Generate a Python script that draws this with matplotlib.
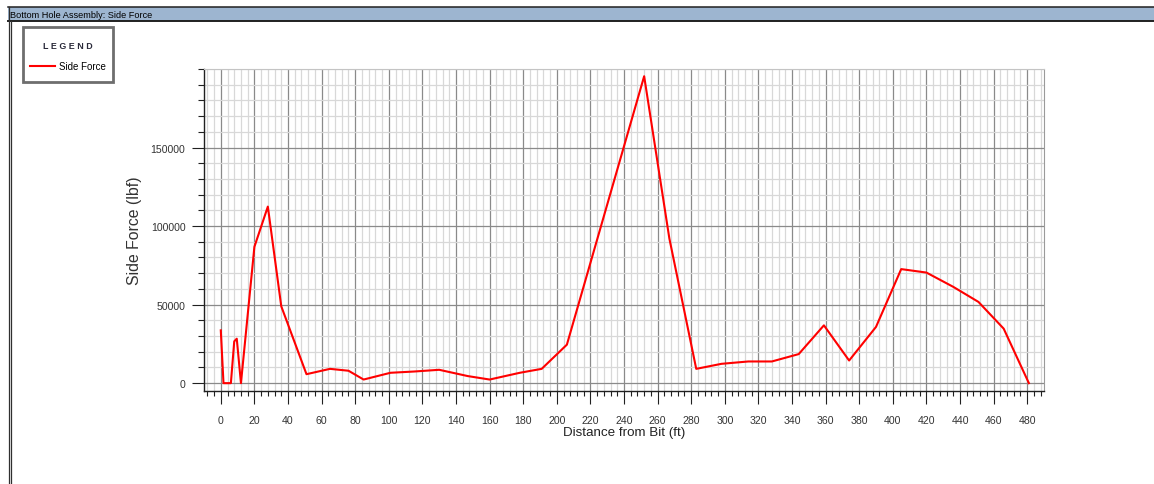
import matplotlib
matplotlib.use('Agg')
import matplotlib.pyplot as plt
from matplotlib.ticker import MultipleLocator, FixedLocator
from matplotlib.patches import Rectangle
from matplotlib.lines import Line2D

# side force along the BHA
dist = [0, 1.6, 6, 8, 9.5, 12, 20, 28, 36, 51, 65, 76, 85, 101, 115, 130, 147,
        160, 178, 191, 206, 252, 267, 283, 298, 314, 328, 344, 359, 374, 390,
        405, 420, 436, 451, 466, 481]
force = [33600, 0, 0, 26600, 28300, 0, 86800, 112400, 48900, 5700, 9100, 7900,
         2300, 6600, 7400, 8500, 4500, 2300, 6600, 9100, 24500, 195400, 92100,
         9100, 12300, 13800, 13800, 18500, 36800, 14400, 35800, 72600, 70400,
         61300, 51700, 34700, 0]
yticks = [0, 50000, 100000, 150000]

plt.rcParams['font.family'] = ['Liberation Sans', 'DejaVu Sans']

W, H = 1154, 485
fig = plt.figure(figsize=(W / 100, H / 100), dpi=100)

def fx(px):
    return px / W

def fy(py):
    return 1 - py / H

# window chrome: title bar and borders
fig.patches.append(Rectangle((fx(8), fy(22)), 1 - fx(8), fy(8) - fy(22),
                             transform=fig.transFigure, facecolor='#9db5d0',
                             edgecolor='none'))
fig.lines.append(Line2D([fx(8), 1], [fy(7.5), fy(7.5)], transform=fig.transFigure,
                        color='#202020', lw=1.1))
fig.lines.append(Line2D([fx(8), 1], [fy(22), fy(22)], transform=fig.transFigure,
                        color='#202020', lw=1.4))
fig.lines.append(Line2D([fx(8.5), fx(8.5)], [0, fy(7.5)], transform=fig.transFigure,
                        color='#303030', lw=0.9))
fig.lines.append(Line2D([fx(11), fx(11)], [0, fy(22)], transform=fig.transFigure,
                        color='#303030', lw=0.9))
fig.text(fx(10), fy(15), 'Bottom Hole Assembly: Side Force', fontsize=6.6,
         family=['Liberation Sans Narrow', 'Liberation Sans'], color='black',
         ha='left', va='center')

ax = fig.add_axes([fx(204), fy(392), fx(1044) - fx(204), fy(70) - fy(392)])
ax.plot(dist, force, color='#ff0000', lw=1.5, label='Side Force', zorder=5)

ax.set_xlim(-10, 490)
ax.set_ylim(-5000, 200000)

ax.xaxis.set_major_locator(MultipleLocator(20))
ax.xaxis.set_minor_locator(MultipleLocator(4))
ax.yaxis.set_major_locator(FixedLocator(yticks))
ax.yaxis.set_minor_locator(MultipleLocator(10000))

ax.grid(which='minor', color='#d8d8d8', lw=0.9)
ax.grid(which='major', color='#8a8a8a', lw=0.9)
ax.set_axisbelow(True)

ax.tick_params(axis='x', which='major', direction='out', length=9.4, width=0.8,
               color='#202020', pad=8, labelsize=7.6, labelcolor='#333333')
ax.tick_params(axis='x', which='minor', direction='out', length=3.6, width=0.8,
               color='#202020')
ax.tick_params(axis='y', which='major', direction='out', length=8.6, width=0.8,
               color='#202020', pad=4.8, labelsize=7.6, labelcolor='#333333')
ax.tick_params(axis='y', which='minor', direction='out', length=4.3, width=0.8,
               color='#202020')

for s in ['left', 'bottom']:
    ax.spines[s].set_color('#202020')
    ax.spines[s].set_linewidth(1.0)
ax.spines['top'].set_color('#c4c4c4')
ax.spines['right'].set_color('#9a9a9a')

ax.set_xlabel('Distance from Bit (ft)', fontsize=9.6, color='#222222')
ax.set_ylabel('Side Force (lbf)', fontsize=11.4, color='#333333')
ax.xaxis.set_label_coords(0.5, -0.108)
ax.yaxis.set_label_coords((142 - 204) / (1044 - 204), 0.5)

# legend box drawn as its own frame, entries placed inside
fig.patches.append(Rectangle((fx(23), fy(83)), fx(113) - fx(23), fy(28) - fy(83),
                             transform=fig.transFigure, facecolor='white',
                             edgecolor='#6e6e6e', lw=2.0))
leg = fig.legend(loc='center', bbox_to_anchor=(fx(68), fy(57)),
                 title='L E G E N D', fontsize=7, frameon=False,
                 handlelength=2.5, handletextpad=0.4, borderpad=0,
                 borderaxespad=0)
leg.get_title().set_fontsize(6.4)
leg.get_title().set_fontweight('bold')
leg.get_title().set_color('#2a2a3a')
leg._legend_box.sep = 8

fig.savefig('out.png', dpi=100)
